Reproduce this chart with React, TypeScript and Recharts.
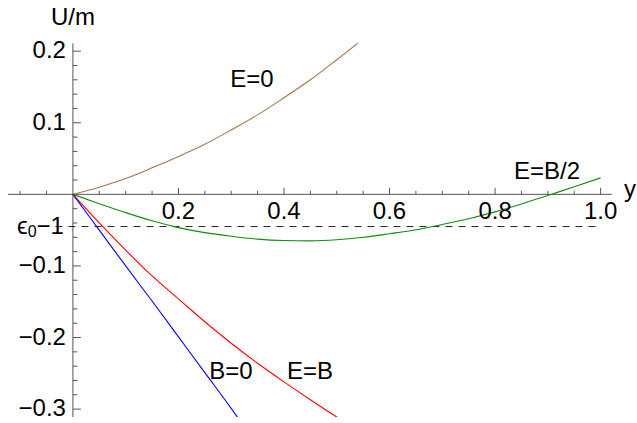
import { LineChart, Line, XAxis, YAxis, ReferenceLine, ReferenceDot } from "recharts";

if (typeof document !== "undefined") document.body.style.margin = "0";

// curves (x = y-parameter, value = U/m)
const xsBrown = [0, 0.05, 0.1, 0.15, 0.2, 0.25, 0.3, 0.35, 0.4, 0.45, 0.5, 0.55];
const uE0 = [0, 0.01, 0.022, 0.037, 0.053, 0.07, 0.09, 0.111, 0.135, 0.16, 0.188, 0.217];

const xsGreen = [0, 0.05, 0.1, 0.15, 0.2, 0.25, 0.3, 0.35, 0.4, 0.45, 0.5, 0.55, 0.6, 0.65, 0.7, 0.75, 0.8, 0.85, 0.9, 0.95, 1.0];
const uEHalfB = [0, -0.013, -0.0255, -0.037, -0.0465, -0.0535, -0.0585, -0.0625, -0.0645, -0.065, -0.0635, -0.06, -0.055, -0.0495, -0.042, -0.034, -0.0245, -0.0135, -0.0015, 0.0105, 0.023];

const xsRed = [0, 0.05, 0.1, 0.15, 0.2, 0.25, 0.3, 0.35, 0.4, 0.45, 0.5, 0.52];
const uEB = [0, -0.04, -0.078, -0.114, -0.146, -0.178, -0.208, -0.236, -0.262, -0.287, -0.311, -0.32];

const xsBlue = [0, 0.05, 0.1, 0.15, 0.2, 0.25, 0.3, 0.33];
const uB0 = [0, -0.05, -0.1, -0.149, -0.199, -0.249, -0.299, -0.33];

const eps0Minus1 = -0.045;

// axes
const xDomain = [-0.123, 1.021];
const yDomain = [-0.311, 0.211];
const xMajor = [0.2, 0.4, 0.6, 0.8, 1.0];
const xMajorLabels = ["0.2", "0.4", "0.6", "0.8", "1.0"];
const xMinor = [-0.1, -0.05, 0.05, 0.1, 0.15, 0.25, 0.3, 0.35, 0.45, 0.5, 0.55, 0.65, 0.7, 0.75, 0.85, 0.9, 0.95];
const yMajor = [0.2, 0.1, -0.1, -0.2, -0.3];
const yMajorLabels = ["0.2", "0.1", "\u22120.1", "\u22120.2", "\u22120.3"];
const yMinor = [
  0.18, 0.16, 0.14, 0.12, 0.08, 0.06, 0.04, 0.02,
  -0.02, -0.04, -0.06, -0.08, -0.12, -0.14, -0.16, -0.18,
  -0.22, -0.24, -0.26, -0.28,
];

const toPoints = (xs: number[], us: number[]) => xs.map((x, i) => ({ x, u: us[i] }));

const AXIS = "#555";
const FONT = "'Liberation Sans', Arial, sans-serif";
const FS = 24;

function XTick({ cx, cy, len, label }: { cx: number; cy: number; len: number; label?: string }) {
  return (
    <g>
      <line x1={cx} y1={cy} x2={cx} y2={cy - len} stroke={AXIS} strokeWidth={1} />
      {label && (
        <text x={cx} y={cy + 25} textAnchor="middle" fontFamily={FONT} fontSize={FS} fill="#000">
          {label}
        </text>
      )}
    </g>
  );
}

function YTick({ cx, cy, len, label }: { cx: number; cy: number; len: number; label?: string }) {
  return (
    <g>
      <line x1={cx} y1={cy} x2={cx + len} y2={cy} stroke={AXIS} strokeWidth={1} />
      {label && (
        <text x={cx - 7} y={cy + 7} textAnchor="end" fontFamily={FONT} fontSize={FS} fill="#000">
          {label}
        </text>
      )}
    </g>
  );
}

function EpsLabel({ cx, cy }: { cx: number; cy: number }) {
  return (
    <text x={cx - 9} y={cy + 7} textAnchor="end" fontFamily={FONT} fontSize={FS} fill="#000">
      {"\u03f5"}
      <tspan fontSize={16} dy={3}>0</tspan>
      <tspan dy={-3}>{"\u22121"}</tspan>
    </text>
  );
}

export default function App() {
  const W = 637;
  const H = 423;
  return (
    <div style={{ position: "relative", width: W, height: H, background: "#fff" }}>
      <LineChart width={W} height={H} margin={{ top: 43.3, right: 25.3, bottom: 6, left: 8 }}>
        <XAxis type="number" dataKey="x" domain={xDomain} allowDataOverflow hide height={0} />
        <YAxis type="number" dataKey="u" domain={yDomain} allowDataOverflow hide width={0} />

        <ReferenceLine y={0} stroke={AXIS} strokeWidth={1} />
        <ReferenceLine x={0} stroke={AXIS} strokeWidth={1} />
        <ReferenceLine
          segment={[{ x: -0.033, y: eps0Minus1 }, { x: 1.0, y: eps0Minus1 }]}
          stroke="#222"
          strokeWidth={1}
          strokeDasharray="7 6"
        />

        {xMajor.map((t, i) => (
          <ReferenceDot key={"xM" + t} x={t} y={0} r={0} ifOverflow="visible"
            shape={(p: any) => <XTick cx={p.cx} cy={p.cy} len={6.5} label={xMajorLabels[i]} />} />
        ))}
        {xMinor.map((t) => (
          <ReferenceDot key={"xm" + t} x={t} y={0} r={0} ifOverflow="visible"
            shape={(p: any) => <XTick cx={p.cx} cy={p.cy} len={3.5} />} />
        ))}
        {yMajor.map((t, i) => (
          <ReferenceDot key={"yM" + t} x={0} y={t} r={0} ifOverflow="visible"
            shape={(p: any) => <YTick cx={p.cx} cy={p.cy} len={8} label={yMajorLabels[i]} />} />
        ))}
        {yMinor.map((t) => (
          <ReferenceDot key={"ym" + t} x={0} y={t} r={0} ifOverflow="visible"
            shape={(p: any) => <YTick cx={p.cx} cy={p.cy} len={4.5} />} />
        ))}
        <ReferenceDot x={0} y={eps0Minus1} r={0} ifOverflow="visible"
          shape={(p: any) => <EpsLabel cx={p.cx} cy={p.cy} />} />

        <Line data={toPoints(xsBrown, uE0)} dataKey="u" type="monotone" stroke="#a5764a" strokeWidth={1.1} dot={false} isAnimationActive={false} />
        <Line data={toPoints(xsGreen, uEHalfB)} dataKey="u" type="monotone" stroke="#118c11" strokeWidth={1.1} dot={false} isAnimationActive={false} />
        <Line data={toPoints(xsRed, uEB)} dataKey="u" type="monotone" stroke="#ff0000" strokeWidth={1.1} dot={false} isAnimationActive={false} />
        <Line data={toPoints(xsBlue, uB0)} dataKey="u" type="monotone" stroke="#0000ff" strokeWidth={1.1} dot={false} isAnimationActive={false} />
      </LineChart>

      <svg width={W} height={H} style={{ position: "absolute", left: 0, top: 0, pointerEvents: "none" }}>
        <g fontFamily={FONT} fontSize={FS} fill="#000">
          <text x={73} y={25} textAnchor="middle">U/m</text>
          <text x={624} y={197}>y</text>
          <text x={252} y={87} textAnchor="middle">E=0</text>
          <text x={547} y={179} textAnchor="middle">E=B/2</text>
          <text x={231} y={379} textAnchor="middle">B=0</text>
          <text x={310} y={379} textAnchor="middle">E=B</text>
        </g>
      </svg>
    </div>
  );
}
